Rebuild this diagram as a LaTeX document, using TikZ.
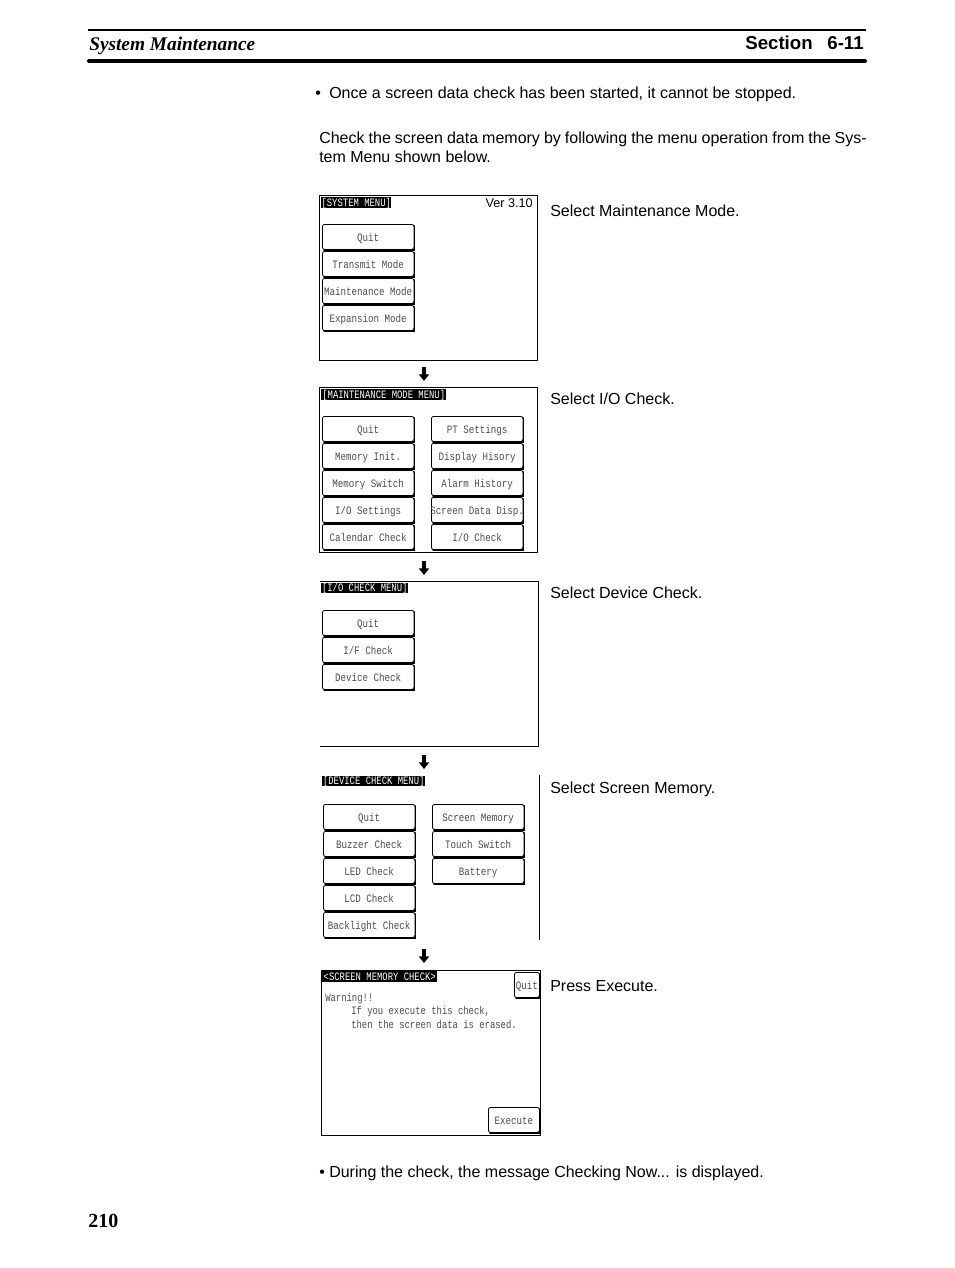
\documentclass[tikz,border=0pt]{standalone}
\usepackage{fontspec}
\setmainfont{Liberation Sans}
\newfontfamily\serifbf{Liberation Serif}
\newfontfamily\lcd[FakeStretch=0.81]{Liberation Mono}
\newfontfamily\lcdnarrow[FakeStretch=0.785]{Liberation Mono}
\usetikzlibrary{arrows.meta}
\tikzset{
  x=0.75pt,y=-0.75pt,
  body/.style={anchor=base west,inner sep=0pt,font=\fontsize{12}{14}\selectfont},
  btnbox/.style={draw=black,line width=0.6pt,rounded corners=1.6pt,fill=white,inner sep=0pt,anchor=north west,font=\lcd\fontsize{8.5}{9}\selectfont,text=black!70,text height=6.9pt,text depth=0.5pt},
  btnshadow/.style={draw=black,line width=1.3pt,line cap=round},
  titlebar/.style={fill=black,text=white,inner sep=0pt,anchor=north west,font=\lcdnarrow\fontsize{8.5}{9}\selectfont,text height=5.8pt,text depth=0.5pt},
  lcdtext/.style={anchor=base west,inner sep=0pt,font=\lcdnarrow\fontsize{8.5}{9}\selectfont,text=black!70},
  screenline/.style={draw=black,line width=0.75pt},
  flowarrow/.style={draw=black,line width=2.4pt,-{Triangle[width=7.5pt,length=5pt]}},
}
\newcommand{\btn}[6]{%
  \node[btnbox,minimum width=#4*0.75pt,minimum height=#5*0.75pt] (#1) at (#2,#3) {\makebox[0pt]{#6}};
  \draw[btnshadow] ([xshift=1.5pt,yshift=-0.2pt]#1.south west) -- ([yshift=-0.2pt,xshift=0.2pt]#1.south east) -- ([yshift=-1.5pt,xshift=0.2pt]#1.north east);
}
\newcommand{\titlebar}[6]{%
  \node[titlebar,minimum width=#4*0.75pt,minimum height=#5*0.75pt] (#1) at (#2,#3) {\makebox[0pt]{#6}};
}
\begin{document}
\begin{tikzpicture}
\useasboundingbox (0,0) rectangle (954,1268);
\fill[white] (0,0) rectangle (954,1268);
% header
\coordinate (r1a) at (88,30); \coordinate (r1b) at (866,30);
\coordinate (r2a) at (89,61); \coordinate (r2b) at (865,61);
\draw[line width=1.5pt] (r1a) -- (r1b);
\draw[line width=3pt,line cap=round] (r2a) -- (r2b);
\node[anchor=base west,inner sep=0pt,font=\serifbf\bfseries\itshape\fontsize{14.5}{16}\selectfont] (hl) at (89,50) {System Maintenance};
\node[anchor=base east,inner sep=0pt,font=\bfseries\fontsize{14}{16}\selectfont] (hr) at (864,49) {Section\hspace{11pt}6-11};
\node[anchor=base west,inner sep=0pt,font=\serifbf\bfseries\fontsize{15}{17}\selectfont] (pg) at (88,1227) {210};
% body
\node[body] (b0) at (315,98) {•};
\node[body] (b1) at (329,98) {Once a screen data check has been started, it cannot be stopped.};
\node[body] (b2) at (319,143) {\spaceskip=3.04pt Check the screen data memory by following the menu operation from the Sys-};
\node[body] (b3) at (319,162) {tem Menu shown below.};
\node[body] (b4) at (319,1177) {• During the check, the message Checking Now... is displayed.};
\node[body] (l1) at (550,216) {Select Maintenance Mode.};
\node[body] (l2) at (550,404) {Select I/O Check.};
\node[body] (l3) at (550,598) {Select Device Check.};
\node[body] (l4) at (550,793) {Select Screen Memory.};
\node[body] (l5) at (550,991) {Press Execute.};
% screen 1
\draw[screenline] (319.5,195.5) rectangle (537.5,360.5);
\titlebar{t1}{321}{197}{70}{11}{[SYSTEM MENU]}
\node[anchor=base east,inner sep=0pt,font=\fontsize{9.5}{11}\selectfont] (ver) at (533,207) {Ver 3.10};
\btn{a1}{322}{224}{91.5}{25}{Quit}
\btn{a2}{322}{251}{91.5}{25}{Transmit Mode}
\btn{a3}{322}{278}{91.5}{25}{Maintenance Mode}
\btn{a4}{322}{305}{91.5}{25}{Expansion Mode}
% screen 2
\draw[screenline] (319.5,387.5) rectangle (537.5,552.5);
\titlebar{t2}{321}{389}{125}{11}{[MAINTENANCE MODE MENU]}
\btn{c1}{322}{416}{91.5}{25}{Quit}
\btn{c2}{322}{443}{91.5}{25}{Memory Init.}
\btn{c3}{322}{470}{91.5}{25}{Memory Switch}
\btn{c4}{322}{497}{91.5}{25}{I/O Settings}
\btn{c5}{322}{524}{91.5}{25}{Calendar Check}
\btn{d1}{431}{416}{91.5}{25}{PT Settings}
\btn{d2}{431}{443}{91.5}{25}{Display Hisory}
\btn{d3}{431}{470}{91.5}{25}{Alarm History}
\btn{d4}{431}{497}{91.5}{25}{Screen Data Disp.}
\btn{d5}{431}{524}{91.5}{25}{I/O Check}
% screen 3
\draw[screenline] (320,581.5) -- (538.5,581.5) -- (538.5,746.5) -- (320,746.5);
\titlebar{t3}{321}{583}{87}{10}{[I/O CHECK MENU]}
\btn{e1}{322}{610}{91.5}{25}{Quit}
\btn{e2}{322}{637}{91.5}{25}{I/F Check}
\btn{e3}{322}{664}{91.5}{25}{Device Check}
% screen 4
\draw[screenline] (539.5,775) -- (539.5,940);
\titlebar{t4}{322}{776}{103}{10}{[DEVICE CHECK MENU]}
\btn{f1}{323}{804}{91.5}{25}{Quit}
\btn{f2}{323}{831}{91.5}{25}{Buzzer Check}
\btn{f3}{323}{858}{91.5}{25}{LED Check}
\btn{f4}{323}{885}{91.5}{25}{LCD Check}
\btn{f5}{323}{912}{91.5}{25}{Backlight Check}
\btn{g1}{432}{804}{91.5}{25}{Screen Memory}
\btn{g2}{432}{831}{91.5}{25}{Touch Switch}
\btn{g3}{432}{858}{91.5}{25}{Battery}
% screen 5
\draw[screenline] (321.5,970.5) rectangle (540.5,1135.5);
\titlebar{t5}{322}{971}{115}{11}{<SCREEN MEMORY CHECK>}
\btn{h1}{514}{972}{25}{25}{Quit}
\btn{h2}{488}{1107}{51}{25}{Execute}
\node[lcdtext] (w1) at (325,1001) {Warning!!};
\node[lcdtext] (w2) at (351,1014) {If you execute this check,};
\node[lcdtext] (w3) at (351,1028) {then the screen data is erased.};
% arrows
\coordinate (p1) at (424,367); \coordinate (q1) at (424,381);
\coordinate (p2) at (424,561); \coordinate (q2) at (424,575);
\coordinate (p3) at (424,755); \coordinate (q3) at (424,769);
\coordinate (p4) at (424,949); \coordinate (q4) at (424,963);
\draw[flowarrow] (p1) -- (q1);
\draw[flowarrow] (p2) -- (q2);
\draw[flowarrow] (p3) -- (q3);
\draw[flowarrow] (p4) -- (q4);
\end{tikzpicture}
\end{document}
